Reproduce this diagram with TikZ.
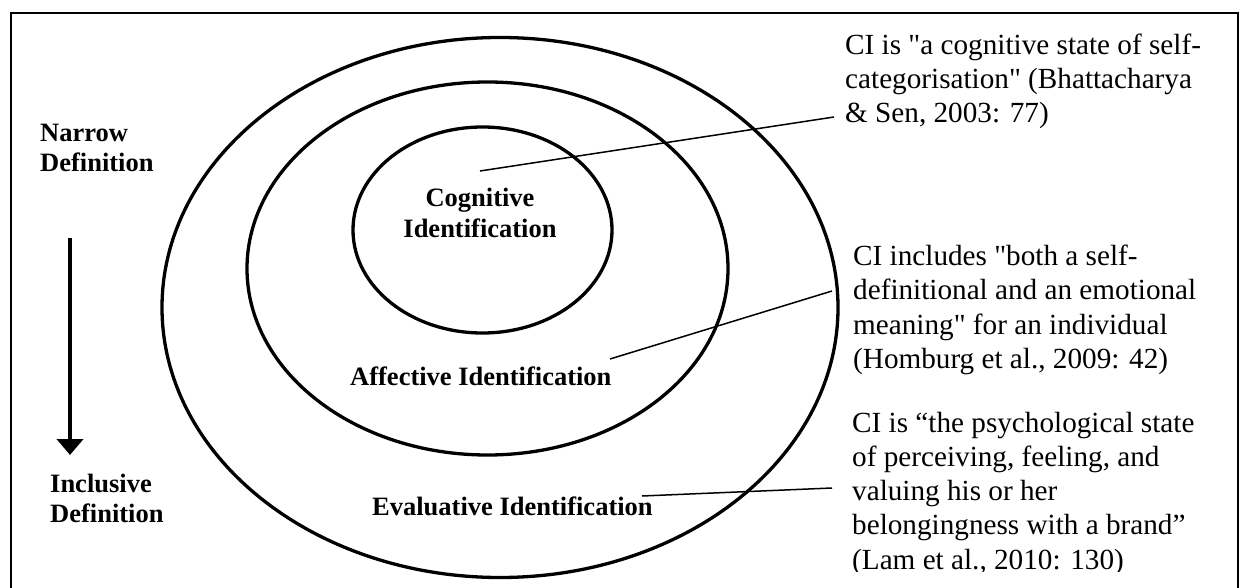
\documentclass[tikz,border=0pt]{standalone}
\usepackage{fontspec}
\setmainfont{Liberation Serif}
\usetikzlibrary{arrows.meta}
\begin{document}
\begin{tikzpicture}[x=1pt,y=-1pt,
  frameline/.style={line width=2.5pt},
  ring/.style={line width=3.3pt},
  pointer/.style={line width=1.5pt},
  quote/.style={anchor=base west,inner sep=0pt,font=\fontsize{29.2}{34}\selectfont},
  label/.style={anchor=base,inner sep=0pt,font=\fontsize{26.5}{30}\selectfont\bfseries},
  sidelabel/.style={anchor=base west,inner sep=0pt,font=\fontsize{26.5}{30}\selectfont\bfseries},
  flow/.style={line width=4pt,-{Triangle[width=26pt,length=16pt]}}]
\useasboundingbox (0,0) rectangle (1244,588);
\clip (0,0) rectangle (1244,588);
% frame (bottom edge lies outside the picture)
\draw[frameline] (11,613) -- (11,13) -- (1238,13) -- (1238,613);
% rings
\draw[ring] (500,307.5) ellipse [x radius=338pt, y radius=270pt];
\draw[ring] (487.5,268.5) ellipse [x radius=240.5pt, y radius=186.5pt];
\draw[ring] (482.5,230) ellipse [x radius=129.5pt, y radius=103pt];
% ring labels
\node[label] (cog1) at (480,206) {Cognitive};
\node[label] (cog2) at (480,237) {Identification};
\node[label,anchor=base west] (aff) at (350,385) {Affective Identification};
\node[label,anchor=base west] (eva) at (372,515) {Evaluative Identification};
% side labels
\node[sidelabel] (nar1) at (40,142) {Narrow};
\node[sidelabel] (nar2) at (40,172) {Definition};
\node[sidelabel] (inc1) at (50,492) {Inclusive};
\node[sidelabel] (inc2) at (50,522) {Definition};
\coordinate (arrtop) at (70,238);
\coordinate (arrbot) at (70,455);
\draw[flow] (arrtop) -- (arrbot);
% quotes
\node[quote] (q1a) at (845,55) {CI is \textquotedbl a cognitive state of self-};
\node[quote] (q1b) at (845,89) {categorisation\textquotedbl{} (Bhattacharya};
\node[quote] (q1c) at (845,123) {\& Sen, 2003: 77)};
\node[quote] (q2a) at (853,265) {CI includes \textquotedbl both a self-};
\node[quote] (q2b) at (853,299.5) {definitional and an emotional};
\node[quote] (q2c) at (853,334) {meaning\textquotedbl{} for an individual};
\node[quote] (q2d) at (853,368.5) {(Homburg et al., 2009: 42)};
\begin{scope}
\clip (0,0) rectangle (1244,571);
\node[quote] (q3a) at (852,432) {CI is “the psychological state};
\node[quote] (q3b) at (852,466) {of perceiving, feeling, and};
\node[quote] (q3c) at (852,500.5) {valuing his or her};
\node[quote] (q3d) at (852,534.5) {belongingness with a brand”};
\node[quote] (q3e) at (852,569) {(Lam et al., 2010: 130)};
\end{scope}
% pointers
\coordinate (p1s) at (480,171);
\coordinate (p1e) at (834,117);
\coordinate (p2s) at (610,359);
\coordinate (p2e) at (832,291);
\coordinate (p3s) at (642,496);
\coordinate (p3e) at (832,488);
\draw[pointer] (p1s) -- (p1e);
\draw[pointer] (p2s) -- (p2e);
\draw[pointer] (p3s) -- (p3e);
\end{tikzpicture}
\end{document}
